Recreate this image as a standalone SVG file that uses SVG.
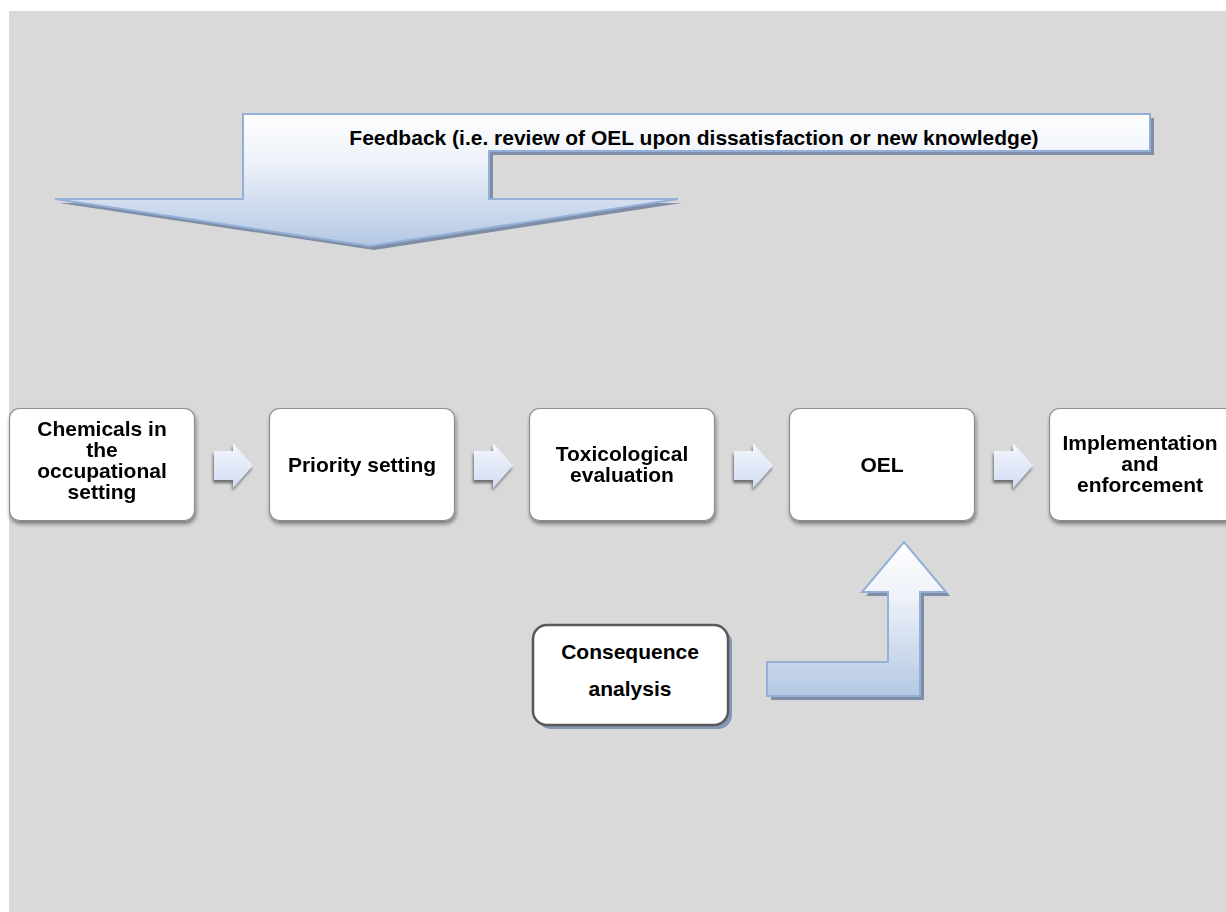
<svg xmlns="http://www.w3.org/2000/svg" width="1226" height="912" viewBox="0 0 1226 912">
<defs>
<linearGradient id="gBig" x1="0" y1="0" x2="0" y2="1">
<stop offset="0" stop-color="#ffffff"/>
<stop offset="0.35" stop-color="#eef2f9"/>
<stop offset="1" stop-color="#b4c8e3"/>
</linearGradient>
<linearGradient id="gSmall" x1="0" y1="0" x2="0" y2="1">
<stop offset="0" stop-color="#f4f7fd"/>
<stop offset="1" stop-color="#d2dcf3"/>
</linearGradient>
<filter id="soft" x="-20%" y="-20%" width="150%" height="150%">
<feGaussianBlur in="SourceAlpha" stdDeviation="2"/>
<feOffset dx="1" dy="3" result="b"/>
<feComponentTransfer><feFuncA type="linear" slope="0.45"/></feComponentTransfer>
<feMerge><feMergeNode/><feMergeNode in="SourceGraphic"/></feMerge>
</filter>
<filter id="softArrow" x="-30%" y="-30%" width="160%" height="160%">
<feGaussianBlur in="SourceAlpha" stdDeviation="1.5"/>
<feOffset dx="-1" dy="3" result="b"/>
<feComponentTransfer><feFuncA type="linear" slope="0.5"/></feComponentTransfer>
<feMerge><feMergeNode/><feMergeNode in="SourceGraphic"/></feMerge>
</filter>
</defs>
<style>
.lbl{font-family:"Liberation Sans",Arial,sans-serif;font-weight:bold;font-size:21px;fill:#000;text-anchor:middle}
.box{fill:#ffffff;stroke:#8c8c8c;stroke-width:1.2}
.big{fill:url(#gBig);stroke:#93b1d8;stroke-width:2}
.shadow{fill:#7f8ea6}
.small{fill:url(#gSmall)}
</style>
<rect x="9" y="11" width="1217" height="901" fill="#d9d9d9"/>

<g id="connectors">
<g id="feedback">
<polygon class="shadow" points="247,118 1154,118 1154,155 493,155 493,203 682,203 374,250 59,203 247,203"/>
<polygon class="big" points="243,114 1150,114 1150,151 489,151 489,199 678,199 370,246 55,199 243,199"/>
<text class="lbl" x="694" y="145">Feedback (i.e. review of OEL upon dissatisfaction or new knowledge)</text>
</g>
<g id="arrow-consequence">
<polygon class="shadow" points="771,666 892,666 892,596 866,596 908,546 950,596 924,596 924,700 771,700"/>
<polygon class="big" points="767,662 888,662 888,592 862,592 904,542 946,592 920,592 920,696 767,696"/>
</g>
<g id="small-arrows" filter="url(#softArrow)">
<polygon class="small" points="214,451 233,451 233,443 253,465.5 233,488 233,480 214,480"/>
<polygon class="small" points="474,451 493,451 493,443 513,465.5 493,488 493,480 474,480"/>
<polygon class="small" points="734,451 753,451 753,443 773,465.5 753,488 753,480 734,480"/>
<polygon class="small" points="994,451 1013,451 1013,443 1033,465.5 1013,488 1013,480 994,480"/>
</g>
</g>

<g id="node-chemicals" filter="url(#soft)">
<rect class="box" x="9.5" y="408.5" width="185" height="112" rx="10"/>
<text class="lbl" x="102" y="436">Chemicals in</text>
<text class="lbl" x="102" y="457">the</text>
<text class="lbl" x="102" y="478">occupational</text>
<text class="lbl" x="102" y="499">setting</text>
</g>
<g id="node-priority" filter="url(#soft)">
<rect class="box" x="269.5" y="408.5" width="185" height="112" rx="10"/>
<text class="lbl" x="362" y="472">Priority setting</text>
</g>
<g id="node-tox" filter="url(#soft)">
<rect class="box" x="529.5" y="408.5" width="185" height="112" rx="10"/>
<text class="lbl" x="622" y="461">Toxicological</text>
<text class="lbl" x="622" y="482">evaluation</text>
</g>
<g id="node-oel" filter="url(#soft)">
<rect class="box" x="789.5" y="408.5" width="185" height="112" rx="10"/>
<text class="lbl" x="882" y="472">OEL</text>
</g>
<g id="node-impl" filter="url(#soft)">
<rect class="box" x="1049.5" y="408.5" width="185" height="112" rx="10"/>
<text class="lbl" x="1140" y="450">Implementation</text>
<text class="lbl" x="1140" y="471">and</text>
<text class="lbl" x="1140" y="492">enforcement</text>
</g>
<g id="node-consequence">
<rect x="537" y="629" width="195" height="100" rx="14" fill="#8497b0"/>
<rect x="533" y="625" width="195" height="100" rx="14" fill="#ffffff" stroke="#595959" stroke-width="2.5"/>
<text class="lbl" x="630" y="659">Consequence</text>
<text class="lbl" x="630" y="696">analysis</text>
</g>
</svg>
